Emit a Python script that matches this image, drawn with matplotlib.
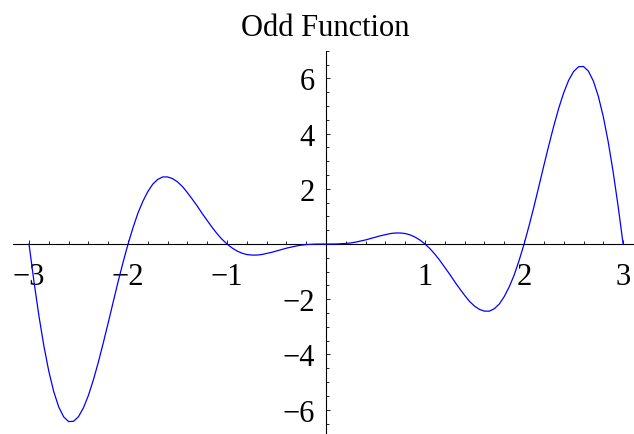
import numpy as np
import matplotlib.pyplot as plt
from matplotlib.ticker import MultipleLocator, FixedLocator

# sampled curve, x from -3 to 3 in steps of 0.05
x = np.arange(-60, 61) * 0.05
y_neg = [0.0, -1.36, -2.60, -3.69, -4.61, -5.35, -5.90, -6.26, -6.43, -6.42,
         -6.25, -5.93, -5.48, -4.92, -4.28, -3.58, -2.85, -2.10, -1.36, -0.66,
         0.0, 0.59, 1.12, 1.55, 1.90, 2.17, 2.34, 2.43, 2.43, 2.37,
         2.25, 2.08, 1.86, 1.62, 1.37, 1.10, 0.85, 0.60, 0.37, 0.17,
         0.0, -0.14, -0.25, -0.33, -0.38, -0.40, -0.40, -0.38, -0.34, -0.30,
         -0.25, -0.20, -0.15, -0.11, -0.07, -0.04, -0.02, -0.01, -0.002, -0.0004]
y_pos = [0.0, 0.0004, 0.002, 0.01, 0.02, 0.04, 0.07, 0.11, 0.15, 0.20,
         0.25, 0.30, 0.34, 0.38, 0.40, 0.40, 0.38, 0.33, 0.25, 0.14,
         0.0, -0.17, -0.37, -0.60, -0.85, -1.10, -1.37, -1.62, -1.86, -2.08,
         -2.25, -2.37, -2.43, -2.43, -2.34, -2.17, -1.90, -1.55, -1.12, -0.59,
         0.0, 0.66, 1.36, 2.10, 2.85, 3.58, 4.28, 4.92, 5.48, 5.93,
         6.25, 6.42, 6.43, 6.26, 5.90, 5.35, 4.61, 3.69, 2.60, 1.36, 0.0]
y = np.array(y_neg + y_pos)

x_ticks = [-3, -2, -1, 1, 2, 3]
y_ticks = [-6, -4, -2, 2, 4, 6]

plt.rcParams['font.family'] = ['Liberation Serif', 'DejaVu Serif']

fig = plt.figure(figsize=(6.34, 4.35), dpi=100)
ax = fig.add_axes([0.02, 0.0, 0.98, 0.881])

ax.plot(x, y, color=(0, 0, 1), lw=0.9, zorder=3, clip_on=False)

ax.set_xlim(-3.165, 3.11)
ax.set_ylim(-6.88, 7.0)

for side in ['top', 'right']:
    ax.spines[side].set_visible(False)
ax.spines['left'].set_position(('data', 0))
ax.spines['bottom'].set_position(('data', 0))
for side in ['left', 'bottom']:
    ax.spines[side].set_linewidth(0.8)

ax.xaxis.set_major_locator(FixedLocator(x_ticks))
ax.yaxis.set_major_locator(FixedLocator(y_ticks))
ax.xaxis.set_minor_locator(MultipleLocator(0.2))
ax.yaxis.set_minor_locator(MultipleLocator(0.5))

ax.tick_params(which='both', direction='in', width=0.6, labelsize=22)
ax.tick_params(which='major', length=3.2)
ax.tick_params(which='minor', length=2.0)
ax.tick_params(axis='x', which='major', pad=13)
ax.tick_params(axis='y', which='major', pad=8)

ax.set_xticklabels(['\u22123', '\u22122', '\u22121', '1', '2', '3'])
ax.set_yticklabels(['\u22126', '\u22124', '\u22122', '2', '4', '6'])

fig.text(0.513, 0.935, 'Odd Function', ha='center', va='center', fontsize=22)

fig.savefig('out.png', dpi=100)
